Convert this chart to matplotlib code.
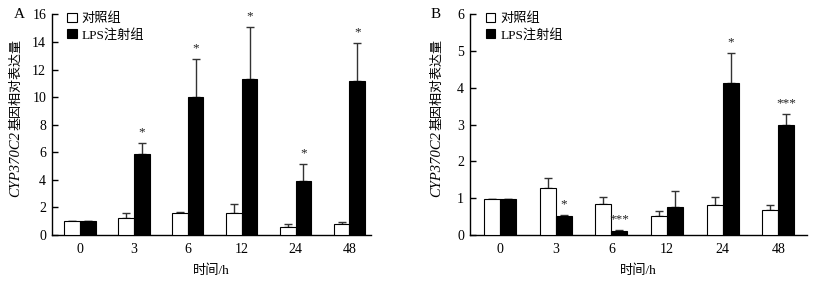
import matplotlib
matplotlib.use("Agg")
import matplotlib.pyplot as plt
import numpy as np

plt.rcParams['font.family'] = ['Liberation Serif', 'Noto Sans CJK SC']

times = ['0', '3', '6', '12', '24', '48']

# panel A
ctrl_a = [1.03, 1.26, 1.60, 1.60, 0.59, 0.79]
ctrl_a_err = [0.0, 0.30, 0.07, 0.68, 0.20, 0.12]
lps_a = [1.03, 5.87, 10.0, 11.34, 3.90, 11.14]
lps_a_err = [0.0, 0.78, 2.79, 3.72, 1.24, 2.81]
stars_a = ['', '*', '*', '*', '*', '*']

# panel B
ctrl_b = [0.98, 1.28, 0.85, 0.53, 0.82, 0.67]
ctrl_b_err = [0.0, 0.28, 0.17, 0.12, 0.20, 0.14]
lps_b = [0.98, 0.53, 0.10, 0.75, 4.13, 2.98]
lps_b_err = [0.0, 0.01, 0.04, 0.44, 0.81, 0.30]
stars_b = ['', '*', '***', '', '*', '***']

fig = plt.figure(figsize=(8.37, 2.84), dpi=100)
renderer = fig.canvas.get_renderer()


def ylabel_mixed(x_px, y_bottom_px):
    # italic gene name + CJK text, stacked upward
    t1 = fig.text(x_px / 837, 1 - y_bottom_px / 284, 'CYP370C2', rotation=90,
                  rotation_mode='anchor', ha='left', va='center',
                  fontsize=10.5, style='italic', family='Liberation Serif')
    bb = t1.get_window_extent(renderer)
    fig.text(x_px / 837, (bb.y1 + 1) / 284, '基因相对表达量', rotation=90,
             rotation_mode='anchor', ha='left', va='center',
             fontsize=9.4, family='Noto Sans CJK SC')


def panel(rect, ctrl, ctrl_err, lps, lps_err, stars, ymax, yticks, xlim, letter, lx):
    ax = fig.add_axes(rect)
    x = np.arange(len(times))
    w = 0.29
    ax.bar(x - w / 2, ctrl, w, color='white', edgecolor='black', linewidth=0.8,
           zorder=3, label='对照组')
    ax.bar(x + w / 2, lps, w, color='black', edgecolor='black', linewidth=0.8,
           zorder=3, label='LPS注射组')
    ax.errorbar(x - w / 2, ctrl, yerr=[np.zeros(len(ctrl)), ctrl_err], fmt='none',
                ecolor='#333333', elinewidth=1, capsize=2.6, capthick=1, zorder=2)
    ax.errorbar(x + w / 2, lps, yerr=[np.zeros(len(lps)), lps_err], fmt='none',
                ecolor='#333333', elinewidth=1, capsize=2.6, capthick=1, zorder=2)
    for i, s in enumerate(stars):
        if s:
            ax.annotate(s, (x[i] + w / 2, lps[i] + lps_err[i]), xytext=(0, 5.5),
                        textcoords='offset points', ha='center', va='baseline',
                        fontsize=9.5, color='#222222')
    ax.set_xlim(*xlim)
    ax.set_ylim(0, ymax)
    ax.set_yticks(yticks)
    ax.set_xticks(x)
    ax.set_xticklabels(times)
    ax.tick_params(axis='x', length=0, labelsize=10, pad=6)
    ax.tick_params(axis='y', direction='in', length=4, width=1, labelsize=10, pad=4)
    ax.spines['top'].set_visible(False)
    ax.spines['right'].set_visible(False)
    for sp in ('left', 'bottom'):
        ax.spines[sp].set_linewidth(1)
    ax.set_xlabel('时间/h', fontsize=9.5, labelpad=6)
    ax.legend(loc='upper left', bbox_to_anchor=(0.02, 1.05), frameon=False,
              fontsize=9.5, handlelength=0.7, handleheight=0.7, handletextpad=0.4,
              labelspacing=0.25, borderpad=0.2)
    ax.text(lx, 1.0, letter, transform=ax.transAxes, fontsize=11,
            ha='left', va='center')
    return ax


panel([0.0618, 0.1725, 0.3815, 0.777], ctrl_a, ctrl_a_err, lps_a, lps_a_err,
      stars_a, 16, range(0, 17, 2), (-0.525, 5.40), 'A', -0.12)
panel([0.5612, 0.1725, 0.4033, 0.777], ctrl_b, ctrl_b_err, lps_b, lps_b_err,
      stars_b, 6, range(0, 7), (-0.544, 5.52), 'B', -0.115)
ylabel_mixed(16, 197)
ylabel_mixed(437, 197)

fig.savefig('out.png', dpi=100)
